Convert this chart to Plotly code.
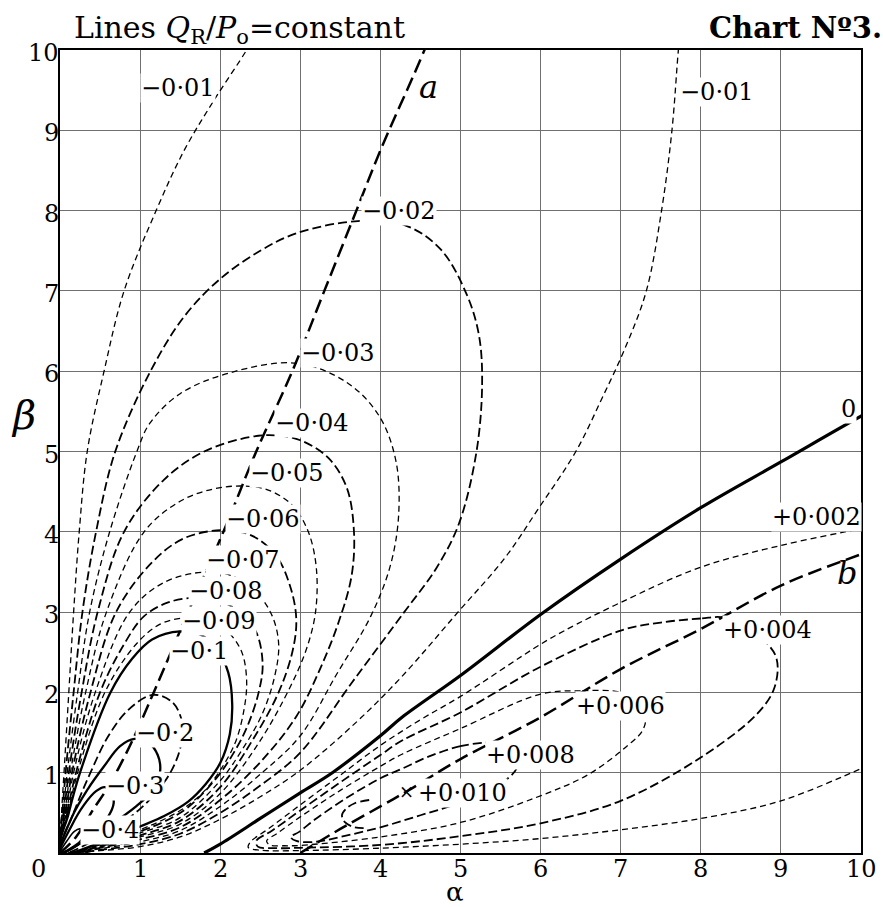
import plotly.graph_objects as go

SERIF = "DejaVu Serif, Liberation Serif, serif"

# ---------------- data (alpha, beta) ----------------
x_ticks = list(range(1, 11))
y_ticks = list(range(1, 11))

line_a = [(0, 0), (0.2, 0.2), (0.42, 0.55), (0.6, 0.82), (0.78, 1.15), (0.95, 1.5), (1.17, 2.0),
          (1.6, 3.0), (2.04, 4.0), (2.45, 5.0), (2.9, 6.0), (3.3, 7.0), (3.7, 8.0), (4.0, 8.75),
          (4.55, 10.0), (4.7, 10.4)]
line_b = [(3.0, 0), (3.5, 0.3), (4.0, 0.58), (4.35, 0.78), (5, 1.17), (6, 1.69), (7, 2.29),
          (8, 2.79), (9, 3.33), (10, 3.72), (10.3, 3.83)]
zero_line = [(1.8, 0), (2.0, 0.11), (2.5, 0.43), (3.0, 0.75), (3.4, 1.0), (4.0, 1.46), (4.27, 1.69),
             (5, 2.21), (6, 2.97), (7, 3.66), (8, 4.3), (9, 4.87), (10, 5.44), (10.3, 5.6)]

neg_001_left = [(0, 0), (0.02, 0.5), (0.05, 1), (0.11, 2), (0.17, 3), (0.24, 4), (0.34, 5), (0.55, 6),
                (0.8, 7), (1.2, 8), (1.55, 8.75), (1.92, 9.37), (2.33, 10), (2.5, 10.3)]
neg_001_right = [(7.76, 10.4), (7.72, 10), (7.64, 9), (7.51, 8), (7.32, 7), (7.06, 6.3), (6.77, 5.67),
                 (6.44, 5.0), (5.98, 4.3), (5.55, 3.67), (4.96, 2.99), (4.27, 2.2), (3.7, 1.63),
                 (3.0, 1.03), (2.5, 0.7), (2.0, 0.42), (1.5, 0.2), (1.0, 0.08), (0.5, 0.03), (0, 0)]
neg_002 = [(0, 0), (0.03, 0.5), (0.07, 1), (0.17, 2), (0.28, 3), (0.45, 4), (0.69, 5), (1.13, 6),
           (1.55, 6.68), (2.0, 7.15), (2.5, 7.5), (2.96, 7.72), (3.72, 7.87), (4.3, 7.82), (4.75, 7.52),
           (5.08, 6.95), (5.23, 6.45), (5.27, 5.85), (5.2, 5.0), (4.98, 4.1), (4.7, 3.55), (4.29, 2.99),
           (3.65, 2.13), (3.0, 1.25), (2.5, 0.84), (2.0, 0.5), (1.5, 0.24), (1.0, 0.11), (0.5, 0.04),
           (0, 0)]
neg_003 = [(0, 0), (0.04, 0.5), (0.09, 1), (0.22, 2), (0.37, 3), (0.62, 4), (0.96, 5), (1.12, 5.35),
           (1.5, 5.72), (2.12, 5.98), (2.95, 6.1), (3.58, 5.86), (3.98, 5.45), (4.19, 4.9),
           (4.23, 4.25), (4.13, 3.6), (3.88, 2.95), (3.45, 2.22), (3.0, 1.46), (2.5, 0.98),
           (2.0, 0.58), (1.5, 0.28), (1.0, 0.14), (0.5, 0.055), (0, 0)]
neg_004 = [(0, 0), (0.05, 0.5), (0.11, 1), (0.27, 2), (0.47, 3), (0.8, 4), (1.3, 4.65), (1.8, 5.0),
           (2.37, 5.18), (2.7, 5.2), (3.0, 5.14), (3.35, 4.92), (3.58, 4.55), (3.67, 4.0), (3.64, 3.45),
           (3.48, 2.88), (3.25, 2.3), (2.95, 1.7), (2.5, 1.13), (2.0, 0.66), (1.5, 0.32), (1.0, 0.17),
           (0.5, 0.065), (0, 0)]
neg_005 = [(0, 0), (0.06, 0.5), (0.13, 1), (0.32, 2), (0.58, 3), (1.05, 4), (1.5, 4.38), (1.9, 4.53),
           (2.28, 4.57), (2.6, 4.52), (2.9, 4.33), (3.1, 4.0), (3.2, 3.55), (3.19, 3.0), (3.08, 2.55),
           (2.88, 2.08), (2.5, 1.4), (2.0, 0.74), (1.5, 0.36), (1.0, 0.2), (0.5, 0.075), (0, 0)]
neg_006 = [(0, 0), (0.07, 0.5), (0.15, 1), (0.38, 2), (0.7, 3), (1.15, 3.62), (1.55, 3.92),
           (2.04, 4.02), (2.4, 3.95), (2.7, 3.7), (2.88, 3.3), (2.95, 2.9), (2.9, 2.5), (2.72, 1.98),
           (2.4, 1.4), (2.0, 0.82), (1.5, 0.4), (1.0, 0.22), (0.5, 0.085), (0, 0)]
neg_007 = [(0, 0), (0.08, 0.5), (0.17, 1), (0.44, 2), (0.87, 3), (1.3, 3.37), (1.82, 3.5),
           (2.15, 3.45), (2.45, 3.25), (2.65, 2.95), (2.73, 2.6), (2.68, 2.2), (2.52, 1.72),
           (2.27, 1.28), (2.0, 0.9), (1.5, 0.44), (1.0, 0.25), (0.5, 0.095), (0, 0)]
neg_008 = [(0, 0), (0.09, 0.5), (0.2, 1), (0.5, 2), (0.8, 2.6), (1.05, 2.95), (1.35, 3.12),
           (1.68, 3.18), (1.95, 3.15), (2.25, 3.0), (2.45, 2.75), (2.53, 2.35), (2.48, 2.0),
           (2.34, 1.58), (2.17, 1.25), (1.95, 0.93), (1.6, 0.57), (1.3, 0.39), (1.0, 0.27),
           (0.5, 0.105), (0, 0)]
neg_009 = [(0, 0), (0.1, 0.5), (0.22, 1), (0.56, 2), (0.95, 2.6), (1.25, 2.85), (1.57, 2.93),
           (1.85, 2.9), (2.1, 2.75), (2.27, 2.5), (2.33, 2.15), (2.3, 1.8), (2.19, 1.38), (2.0, 1.03),
           (1.8, 0.77), (1.55, 0.56), (1.3, 0.42), (1.0, 0.29), (0.5, 0.115), (0, 0)]
neg_010 = [(0, 0), (0.11, 0.5), (0.25, 1), (0.63, 2), (0.9, 2.42), (1.15, 2.66), (1.5, 2.76),
           (1.75, 2.72), (1.95, 2.55), (2.1, 2.25), (2.15, 1.85), (2.12, 1.48), (2.0, 1.12),
           (1.82, 0.86), (1.6, 0.64), (1.3, 0.46), (1.0, 0.33), (0.5, 0.13), (0, 0)]
neg_020 = [(0, 0), (0.17, 0.5), (0.38, 1), (0.6, 1.45), (0.85, 1.78), (1.16, 1.97), (1.4, 1.88),
           (1.52, 1.65), (1.52, 1.4), (1.45, 1.15), (1.3, 0.88), (1.0, 0.55), (0.5, 0.2), (0, 0)]
neg_030 = [(0, 0), (0.15, 0.45), (0.35, 0.8), (0.55, 1.08), (0.75, 1.33), (0.93, 1.42), (1.1, 1.38),
           (1.22, 1.22), (1.25, 1.02), (1.17, 0.8), (0.95, 0.58), (0.6, 0.33), (0.3, 0.15), (0, 0)]
neg_040 = [(0, 0), (0.15, 0.35), (0.3, 0.6), (0.45, 0.77), (0.56, 0.82), (0.64, 0.76), (0.67, 0.62),
           (0.6, 0.45), (0.45, 0.28), (0.25, 0.12), (0, 0)]
neg_050 = [(0, 0), (0.1, 0.17), (0.18, 0.27), (0.25, 0.3), (0.3, 0.25), (0.27, 0.17), (0.18, 0.09),
           (0, 0)]

pos_002 = [(10.3, 4.1), (10, 4.04), (9, 3.83), (8, 3.56), (7, 3.12), (6.3, 2.77), (6, 2.6), (5, 1.95),
           (4.5, 1.66), (4.0, 1.34), (3.5, 0.97), (3.0, 0.6), (2.6, 0.3), (2.38, 0.14), (2.35, 0.07),
           (2.5, 0.035), (3, 0.03), (4, 0.06), (5, 0.11), (6, 0.18), (7, 0.29), (8, 0.43), (9, 0.65),
           (10, 1.05), (10.3, 1.18)]
pos_004 = [(8.3, 2.93), (8.0, 2.92), (7.5, 2.87), (7.0, 2.77), (6.0, 2.32), (5.0, 1.75), (4.27, 1.4),
           (4.0, 1.22), (3.5, 0.88), (3.0, 0.53), (2.65, 0.28), (2.45, 0.15), (2.47, 0.08), (2.7, 0.06),
           (3.0, 0.065), (4.0, 0.1), (5.0, 0.21), (6.0, 0.37), (7.0, 0.65), (8.0, 1.19), (8.7, 1.73),
           (8.92, 2.06), (8.94, 2.44), (8.7, 2.72), (8.3, 2.93)]
pos_006 = [(7.0, 2.0), (6.5, 2.02), (6.0, 1.98), (5.0, 1.55), (4.27, 1.23), (4.0, 1.08), (3.5, 0.78),
           (3.0, 0.45), (2.72, 0.25), (2.58, 0.15), (2.62, 0.1), (2.8, 0.09), (3.0, 0.095), (4.0, 0.2),
           (5.0, 0.38), (5.94, 0.69), (6.6, 0.98), (7.1, 1.35), (7.27, 1.52), (7.31, 1.69), (7.2, 1.88),
           (7.0, 2.0)]
pos_008 = [(5.4, 1.38), (5.0, 1.33), (4.6, 1.2), (4.27, 1.05), (4.0, 0.93), (3.6, 0.7), (3.2, 0.43),
           (2.98, 0.26), (2.88, 0.2), (2.95, 0.15), (3.2, 0.14), (3.5, 0.2), (4.0, 0.32), (4.5, 0.47),
           (5.0, 0.63), (5.48, 0.85), (5.7, 1.05), (5.72, 1.25), (5.6, 1.36), (5.4, 1.38)]
pos_010 = [(3.86, 0.66), (3.68, 0.62), (3.57, 0.55), (3.52, 0.47), (3.56, 0.38), (3.68, 0.32),
           (3.82, 0.31)]

contour_labels = [("−0·01", 1.47, 9.53), ("−0·01", 8.2, 9.48), ("−0·02", 4.23, 8.0),
                  ("−0·03", 3.47, 6.23), ("−0·04", 3.14, 5.35), ("−0·05", 2.83, 4.73),
                  ("−0·06", 2.54, 4.16), ("−0·07", 2.29, 3.65), ("−0·08", 2.07, 3.26),
                  ("−0·09", 1.99, 2.89), ("−0·1", 1.74, 2.52), ("−0·2", 1.31, 1.49),
                  ("−0·3", 0.94, 0.83), ("−0·4", 0.62, 0.29), ("0", 9.85, 5.53),
                  ("+0·002", 9.45, 4.18), ("+0·004", 8.83, 2.78), ("+0·006", 7.0, 1.83),
                  ("+0·008", 5.88, 1.22), ("+0·010", 5.02, 0.75)]
letter_labels = [("a", 4.6, 9.54), ("b", 9.83, 3.49)]
max_mark = (4.33, 0.77)

# ---------------- styles ----------------
THIN = dict(color="black", width=1.3, dash="6px,4px")
MED = dict(color="black", width=1.8, dash="9px,4px")
THICK = dict(color="black", width=2.5, dash="14px,6px")
SOLID = dict(color="black", width=2.3)
ZERO = dict(color="black", width=3.2)

curves = [
    (neg_001_left, THIN), (neg_001_right, THIN), (neg_002, MED), (neg_003, THIN),
    (neg_004, MED), (neg_005, THIN), (neg_006, MED), (neg_007, THIN), (neg_008, MED),
    (neg_009, THIN), (neg_010, SOLID), (neg_020, MED), (neg_030, SOLID), (neg_040, SOLID),
    (neg_050, dict(color="black", width=1.6)),
    (pos_002, THIN), (pos_004, MED), (pos_006, THIN), (pos_008, MED), (pos_010, MED),
    (line_a, THICK), (line_b, THICK), (zero_line, ZERO),
]

fig = go.Figure()
for pts, style in curves:
    fig.add_trace(go.Scatter(
        x=[p[0] for p in pts], y=[p[1] for p in pts], mode="lines",
        line=dict(shape="spline", smoothing=1.0, **style),
        hoverinfo="skip", showlegend=False))

annotations = []
for txt, ax, by in contour_labels:
    annotations.append(dict(x=ax, y=by, xref="x", yref="y", text=txt, showarrow=False,
                            xanchor="center", yanchor="middle",
                            font=dict(family=SERIF, size=24, color="black"),
                            bgcolor="white", borderpad=0))
for txt, ax, by in letter_labels:
    annotations.append(dict(x=ax, y=by, xref="x", yref="y", text="<i>%s</i>" % txt,
                            xanchor="center", yanchor="middle",
                            showarrow=False, font=dict(family=SERIF, size=32, color="black")))
annotations.append(dict(x=max_mark[0], y=max_mark[1], xref="x", yref="y", text="×",
                        xanchor="center", yanchor="middle",
                        showarrow=False, font=dict(family=SERIF, size=18, color="black")))

# tick labels (drawn as text next to the frame, like the original engraving)
for v in x_ticks:
    annotations.append(dict(x=v, y=-0.0195, xref="x", yref="paper", text=str(v), showarrow=False,
                            xanchor="center", yanchor="middle",
                            font=dict(family=SERIF, size=24, color="black")))
for v in y_ticks:
    annotations.append(dict(x=0.001, y=v, xref="paper", yref="y", text=str(v), showarrow=False,
                            xanchor="right", yanchor="middle", yshift=-3,
                            font=dict(family=SERIF, size=24, color="black")))

# titles and axis names
annotations += [
    dict(x=0.2247, y=1.026, xref="paper", yref="paper", showarrow=False,
         xanchor="center", yanchor="middle",
         text="Lines <i>Q</i><sub>R</sub>/<i>P</i><sub>o</sub>=constant",
         font=dict(family=SERIF, size=30, color="black")),
    dict(x=0.918, y=1.028, xref="paper", yref="paper", showarrow=False,
         xanchor="center", yanchor="middle",
         text="<b>Chart Nº3.</b>", font=dict(family=SERIF, size=29, color="black")),
    dict(x=0.493, y=-0.0485, xref="paper", yref="paper", showarrow=False,
         xanchor="center", yanchor="middle",
         text="α", font=dict(family=SERIF, size=26, color="black")),
    dict(x=-0.046, y=0.545, xref="paper", yref="paper", showarrow=False,
         xanchor="center", yanchor="middle",
         text="<i>β</i>", font=dict(family=SERIF, size=40, color="black")),
    dict(x=-0.027, y=-0.0195, xref="paper", yref="paper", showarrow=False,
         xanchor="center", yanchor="middle",
         text="0", font=dict(family=SERIF, size=24, color="black")),
]

axis_common = dict(range=[0, 10], showgrid=True, gridcolor="#707070", gridwidth=1,
                   showline=True, linecolor="black", linewidth=1.8, mirror=True,
                   zeroline=False, ticks="", showticklabels=False, dtick=1, tick0=0,
                   fixedrange=True)

fig.update_layout(
    width=883, height=907,
    margin=dict(l=60, r=22, t=50, b=54),
    paper_bgcolor="white", plot_bgcolor="white",
    xaxis=axis_common,
    yaxis=axis_common,
    annotations=annotations,
)

fig.write_html("out.html")
